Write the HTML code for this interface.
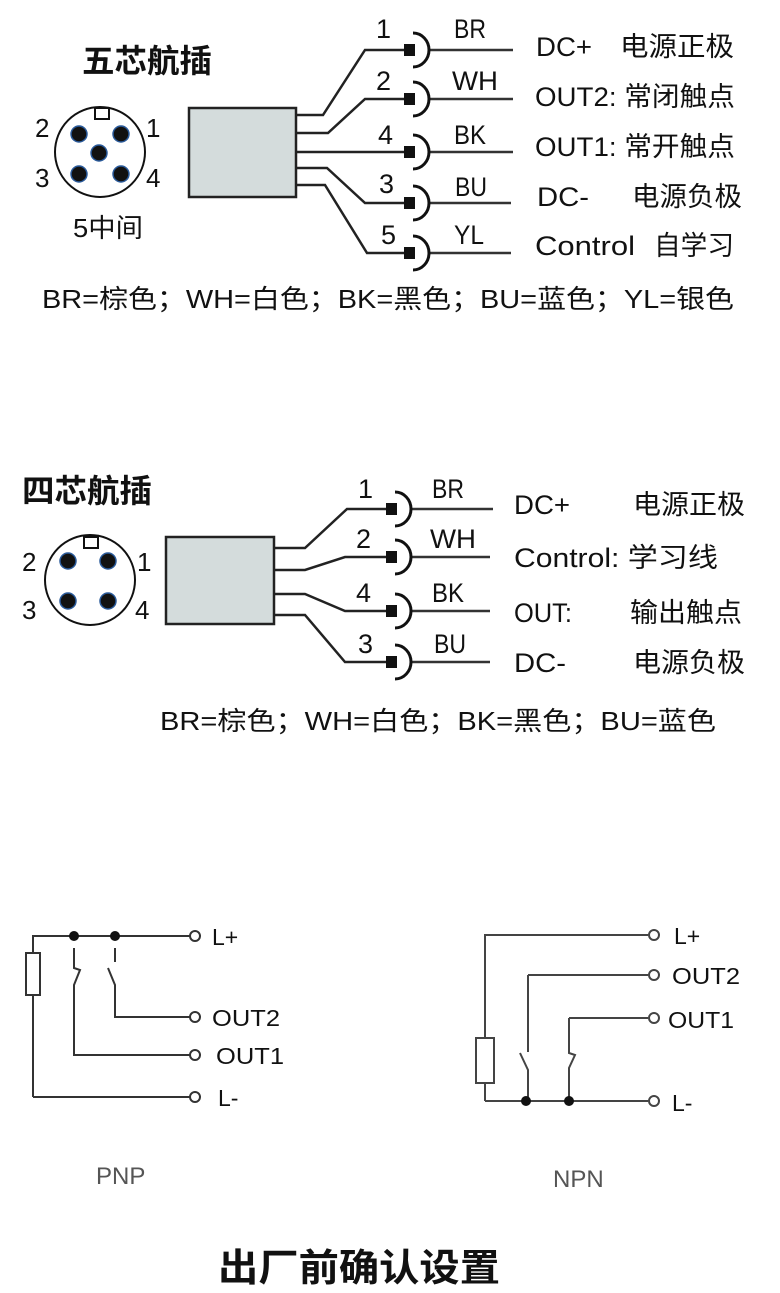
<!DOCTYPE html>
<html><head><meta charset="utf-8"><style>
html,body{margin:0;padding:0;background:#fff;}
svg{display:block;}
text{font-family:"Liberation Sans","Noto Sans CJK SC",sans-serif;fill:#111;}
</style></head><body>
<svg width="780" height="1293" viewBox="0 0 780 1293" xmlns="http://www.w3.org/2000/svg">
<defs>
<g id="conn">
<rect x="-6" y="-6" width="11" height="12" fill="#111"/>
<path d="M3,-17 A16,17 0 0 1 3,17" fill="none" stroke="#111" stroke-width="3"/>
</g>
</defs>
<!-- Five pin -->
<text x="82" y="72" font-size="32" font-weight="bold" textLength="130" lengthAdjust="spacingAndGlyphs">五芯航插</text>
<circle cx="100" cy="152" r="45" fill="none" stroke="#111" stroke-width="2"/>
<rect x="95" y="108" width="14" height="11" fill="#fff" stroke="#111" stroke-width="2"/>
<g fill="#111" stroke="#2a5a9a" stroke-width="1.5">
<circle cx="79" cy="134" r="8"/><circle cx="121" cy="134" r="8"/><circle cx="99" cy="153" r="8"/><circle cx="79" cy="174" r="8"/><circle cx="121" cy="174" r="8"/>
</g>
<g font-size="26"><text x="35" y="137">2</text><text x="146" y="137">1</text><text x="35" y="187">3</text><text x="146" y="187">4</text></g>
<text x="73" y="237" font-size="26" textLength="70" lengthAdjust="spacingAndGlyphs">5中间</text>
<rect x="189" y="108" width="107" height="89" fill="#d4dcdc" stroke="#222" stroke-width="2.5"/>
<g fill="none" stroke="#222" stroke-width="2.5">
<polyline points="296,115 323,115 365,50 405,50"/>
<polyline points="296,133 328,133 365,99 405,99"/>
<polyline points="296,152 405,152"/>
<polyline points="296,168 327,168 365,203 405,203"/>
<polyline points="296,185 325,185 367,253 405,253"/>
<path d="M428,50H513M428,99H513M428,152H513M428,203H511M428,253H511" stroke="#333"/>
</g>
<use href="#conn" x="410" y="50"/><use href="#conn" x="410" y="99"/><use href="#conn" x="410" y="152"/><use href="#conn" x="410" y="203"/><use href="#conn" x="410" y="253"/>
<g font-size="27">
<text x="376" y="38">1</text><text x="376" y="90">2</text><text x="378" y="144">4</text><text x="379" y="193">3</text><text x="381" y="244">5</text>
<text x="454" y="38" textLength="32" lengthAdjust="spacingAndGlyphs">BR</text><text x="452" y="90" textLength="46" lengthAdjust="spacingAndGlyphs">WH</text><text x="454" y="144" textLength="32" lengthAdjust="spacingAndGlyphs">BK</text><text x="455" y="196" textLength="32" lengthAdjust="spacingAndGlyphs">BU</text><text x="454" y="244" textLength="30" lengthAdjust="spacingAndGlyphs">YL</text>
<text x="536" y="56" textLength="56" lengthAdjust="spacingAndGlyphs">DC+</text><text x="620" y="56" textLength="114" lengthAdjust="spacingAndGlyphs">电源正极</text>
<text x="535" y="106" textLength="200" lengthAdjust="spacingAndGlyphs">OUT2: 常闭触点</text>
<text x="535" y="156" textLength="200" lengthAdjust="spacingAndGlyphs">OUT1: 常开触点</text>
<text x="537" y="206" textLength="52" lengthAdjust="spacingAndGlyphs">DC-</text><text x="632" y="206" textLength="110" lengthAdjust="spacingAndGlyphs">电源负极</text>
<text x="535" y="255" textLength="100" lengthAdjust="spacingAndGlyphs">Control</text><text x="654" y="255" textLength="80" lengthAdjust="spacingAndGlyphs">自学习</text>
<text x="42" y="308" font-size="26" textLength="692" lengthAdjust="spacingAndGlyphs">BR=棕色；WH=白色；BK=黑色；BU=蓝色；YL=银色</text>
</g>
<!-- Four pin -->
<text x="22" y="502" font-size="32" font-weight="bold" textLength="130" lengthAdjust="spacingAndGlyphs">四芯航插</text>
<circle cx="90" cy="580" r="45" fill="none" stroke="#111" stroke-width="2"/>
<rect x="84" y="537" width="14" height="11" fill="#fff" stroke="#111" stroke-width="2"/>
<g fill="#111" stroke="#2a5a9a" stroke-width="1.5">
<circle cx="68" cy="561" r="8"/><circle cx="108" cy="561" r="8"/><circle cx="68" cy="601" r="8"/><circle cx="108" cy="601" r="8"/>
</g>
<g font-size="26"><text x="22" y="571">2</text><text x="137" y="571">1</text><text x="22" y="619">3</text><text x="135" y="619">4</text></g>
<rect x="166" y="537" width="108" height="87" fill="#d4dcdc" stroke="#222" stroke-width="2.5"/>
<g fill="none" stroke="#222" stroke-width="2.5">
<polyline points="274,548 305,548 347,509 387,509"/>
<polyline points="274,570 305,570 345,557 387,557"/>
<polyline points="274,594 305,594 345,611 387,611"/>
<polyline points="274,615 305,615 345,662 387,662"/>
<path d="M410,509H493M410,557H490M410,611H490M410,662H490" stroke="#333"/>
</g>
<use href="#conn" x="392" y="509"/><use href="#conn" x="392" y="557"/><use href="#conn" x="392" y="611"/><use href="#conn" x="392" y="662"/>
<g font-size="27">
<text x="358" y="498">1</text><text x="356" y="548">2</text><text x="356" y="602">4</text><text x="358" y="653">3</text>
<text x="432" y="498" textLength="32" lengthAdjust="spacingAndGlyphs">BR</text><text x="430" y="548" textLength="46" lengthAdjust="spacingAndGlyphs">WH</text><text x="432" y="602" textLength="32" lengthAdjust="spacingAndGlyphs">BK</text><text x="434" y="653" textLength="32" lengthAdjust="spacingAndGlyphs">BU</text>
<text x="514" y="514" textLength="56" lengthAdjust="spacingAndGlyphs">DC+</text><text x="633" y="514" textLength="112" lengthAdjust="spacingAndGlyphs">电源正极</text>
<text x="514" y="567" textLength="204" lengthAdjust="spacingAndGlyphs">Control: 学习线</text>
<text x="514" y="622" textLength="58" lengthAdjust="spacingAndGlyphs">OUT:</text><text x="630" y="622" textLength="112" lengthAdjust="spacingAndGlyphs">输出触点</text>
<text x="514" y="672" textLength="52" lengthAdjust="spacingAndGlyphs">DC-</text><text x="633" y="672" textLength="112" lengthAdjust="spacingAndGlyphs">电源负极</text>
<text x="160" y="730" font-size="26" textLength="556" lengthAdjust="spacingAndGlyphs">BR=棕色；WH=白色；BK=黑色；BU=蓝色</text>
</g>
<!-- PNP -->
<g fill="none" stroke="#333" stroke-width="2">
<path d="M33,1097V936H190"/>
<path d="M33,1097H190"/>
<rect x="26" y="953" width="14" height="42" fill="#fff"/>
<path d="M74,948V968L80,970L74,985V1055H190"/>
<path d="M115,948V962M108,968L115,985V1017H190"/>
<circle cx="195" cy="936" r="5" fill="#fff"/><circle cx="195" cy="1017" r="5" fill="#fff"/><circle cx="195" cy="1055" r="5" fill="#fff"/><circle cx="195" cy="1097" r="5" fill="#fff"/>
</g>
<circle cx="74" cy="936" r="5" fill="#111"/><circle cx="115" cy="936" r="5" fill="#111"/>
<g font-size="23" fill="#222">
<text x="212" y="945">L+</text><text x="212" y="1026" textLength="68" lengthAdjust="spacingAndGlyphs">OUT2</text><text x="216" y="1064" textLength="68" lengthAdjust="spacingAndGlyphs">OUT1</text><text x="218" y="1106">L-</text>
</g>
<!-- NPN -->
<g fill="none" stroke="#444" stroke-width="2">
<path d="M485,1101V935H648"/>
<path d="M485,1101H648"/>
<rect x="476" y="1038" width="18" height="45" fill="#fff"/>
<path d="M528,975H648M528,975V1052M520,1053L528,1070V1101"/>
<path d="M569,1018H648M569,1018V1053L575,1055L569,1068V1101"/>
<circle cx="654" cy="935" r="5" fill="#fff"/><circle cx="654" cy="975" r="5" fill="#fff"/><circle cx="654" cy="1018" r="5" fill="#fff"/><circle cx="654" cy="1101" r="5" fill="#fff"/>
</g>
<circle cx="526" cy="1101" r="5" fill="#111"/><circle cx="569" cy="1101" r="5" fill="#111"/>
<g font-size="23" fill="#222">
<text x="674" y="944">L+</text><text x="672" y="984" textLength="68" lengthAdjust="spacingAndGlyphs">OUT2</text><text x="668" y="1028" textLength="66" lengthAdjust="spacingAndGlyphs">OUT1</text><text x="672" y="1111">L-</text>
</g>
<text x="96" y="1184" font-size="24" style="fill:#555">PNP</text>
<text x="553" y="1187" font-size="24" style="fill:#555">NPN</text>
<text x="218" y="1281" font-size="38" font-weight="bold" textLength="282" lengthAdjust="spacingAndGlyphs">出厂前确认设置</text>
</svg>
</body></html>
